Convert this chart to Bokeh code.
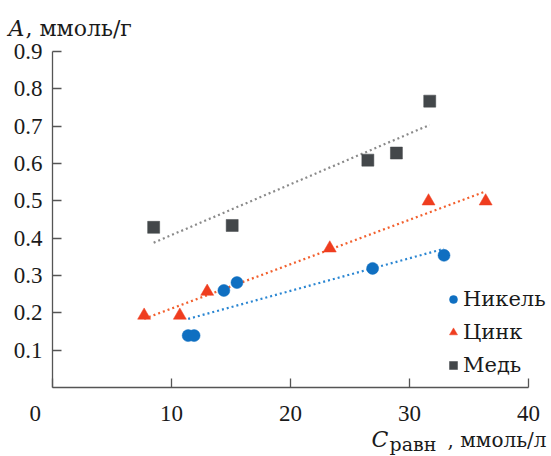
import numpy as np
from bokeh.plotting import figure
from bokeh.models import Range1d, FixedTicker, Label, Legend, LegendItem
from bokeh.embed import file_html
from bokeh.resources import INLINE

# ---- data ----
series_names = ["Никель", "Цинк", "Медь"]

nickel_x = [11.4, 11.9, 14.4, 15.5, 26.9, 32.9]
nickel_y = [0.139, 0.139, 0.260, 0.281, 0.319, 0.354]

zinc_x = [7.7, 10.7, 13.0, 23.3, 31.6, 36.4]
zinc_y = [0.193, 0.193, 0.257, 0.373, 0.499, 0.499]

copper_x = [8.5, 15.1, 26.5, 28.9, 31.7]
copper_y = [0.429, 0.434, 0.609, 0.628, 0.767]

x_ticks = [0, 10, 20, 30, 40]
y_ticks = [0.1, 0.2, 0.3, 0.4, 0.5, 0.6, 0.7, 0.8, 0.9]
x_bounds = (0, 40)
y_bounds = (0, 0.9)

# ---- styles ----
marker_colors = ["#0F6FC1", "#EF3D1F", "#43474A"]
line_colors = ["#2A86D2", "#F2602E", "#8A8A8A"]
markers = ["circle", "triangle", "square"]
marker_sizes = [12, 13, 12]

SERIF = "Liberation Serif"
CYR = "DejaVu Serif"
TXT = "#1a1a1a"

# frame covers the whole canvas; axes are pinned with fixed_location
W, H = 551, 456
left_px, right_px, top_px, bottom_px = 52, 528, 51, 387
sx = (right_px - left_px) / (x_bounds[1] - x_bounds[0])
sy = (bottom_px - top_px) / (y_bounds[1] - y_bounds[0])
xr = Range1d(x_bounds[0] - left_px / sx, x_bounds[1] + (W - right_px) / sx)
yr = Range1d(y_bounds[0] - (H - bottom_px) / sy, y_bounds[1] + top_px / sy)

def px2x(px):
    return xr.start + px / sx

def px2y(py):
    return yr.end - py / sy

p = figure(width=W, height=H, output_backend="svg", toolbar_location=None,
           x_range=xr, y_range=yr, min_border=0,
           min_border_left=0, min_border_right=0, min_border_top=0,
           min_border_bottom=0)
p.outline_line_color = None
p.xgrid.visible = False
p.ygrid.visible = False
p.background_fill_color = "white"
p.border_fill_color = "white"

for ax in (p.xaxis, p.yaxis):
    ax.axis_line_color = "#555555"
    ax.axis_line_width = 1.3
    ax.major_tick_line_color = "#555555"
    ax.major_tick_line_width = 1.3
    ax.major_tick_in = 9
    ax.major_tick_out = 0
    ax.minor_tick_line_color = None
    ax.major_label_text_font = SERIF
    ax.major_label_text_font_size = "23px"
    ax.major_label_text_color = TXT

p.xaxis.ticker = FixedTicker(ticks=x_ticks)
p.yaxis.ticker = FixedTicker(ticks=y_ticks)
p.xaxis.major_label_overrides = {0: "0\u2002\u2002\u2002"}
p.xaxis.fixed_location = y_bounds[0]
p.yaxis.fixed_location = x_bounds[0]
p.xaxis.bounds = x_bounds
p.yaxis.bounds = y_bounds
p.xaxis.major_label_standoff = 13
p.yaxis.major_label_standoff = 10

all_x = [nickel_x, zinc_x, copper_x]
all_y = [nickel_y, zinc_y, copper_y]

items = []
for i in range(3):
    xs = np.array(all_x[i])
    ys = np.array(all_y[i])
    k, b = np.polyfit(xs, ys, 1)
    lx = np.array([xs.min(), xs.max()])
    p.line(lx, k * lx + b, line_color=line_colors[i], line_width=2.2,
           line_dash="2 3")
for i in range(3):
    r = p.scatter(all_x[i], all_y[i], marker=markers[i], size=marker_sizes[i],
                  fill_color=marker_colors[i], line_color=marker_colors[i],
                  line_width=0.5)
    items.append(LegendItem(label=series_names[i], renderers=[r]))

legend = Legend(items=items, location=(443, H - 377), orientation="vertical",
                background_fill_alpha=0, border_line_alpha=0,
                padding=0, margin=0, spacing=9,
                glyph_width=20, glyph_height=24, label_height=24,
                label_standoff=0,
                label_text_font=CYR, label_text_font_size="21px",
                label_text_color=TXT)
p.add_layout(legend)

# axis titles
p.add_layout(Label(x=px2x(8), y=px2y(28), text="A", text_font=CYR,
                   text_font_style="italic", text_font_size="22px",
                   text_color=TXT, text_baseline="alphabetic"))
p.add_layout(Label(x=px2x(25), y=px2y(28), text=", ммоль/г", text_font=CYR,
                   text_font_size="22px", text_color=TXT,
                   text_baseline="alphabetic"))

p.add_layout(Label(x=px2x(371), y=px2y(439), text="C", text_font=CYR,
                   text_font_style="italic", text_font_size="22px",
                   text_color=TXT, text_baseline="alphabetic"))
p.add_layout(Label(x=px2x(389), y=px2y(443), text="равн", text_font=CYR,
                   text_font_size="19px", text_color=TXT,
                   text_baseline="alphabetic"))
p.add_layout(Label(x=px2x(546), y=px2y(439), text=", ммоль/л", text_font=CYR,
                   text_font_size="20px", text_color=TXT,
                   text_baseline="alphabetic", text_align="right"))

open("out.html", "w").write(file_html(p, INLINE))
